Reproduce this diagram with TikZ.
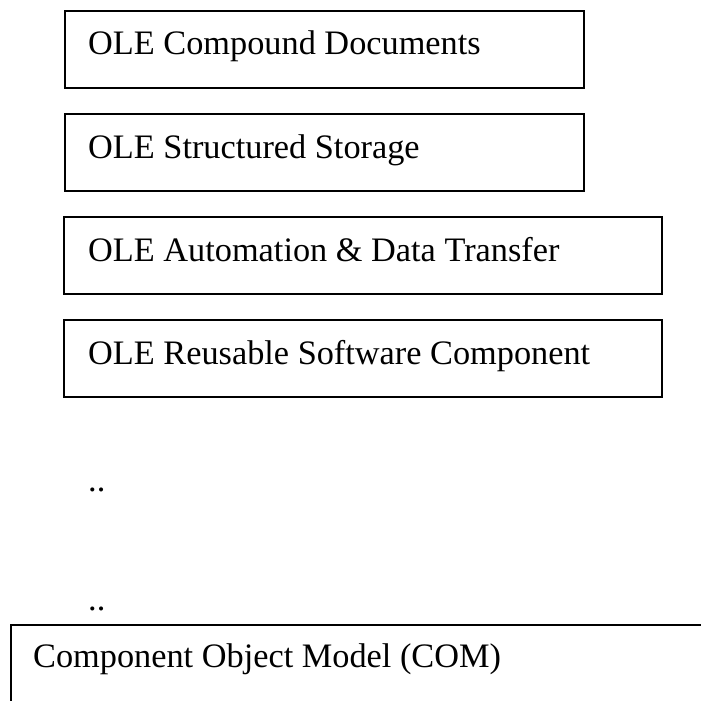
\documentclass[tikz,border=0pt]{standalone}
\usepackage{fontspec}
\setmainfont{Liberation Serif}
\usetikzlibrary{calc}
\begin{document}
\begin{tikzpicture}[x=1pt,y=-1pt,
  layerbox/.style={draw=black, line width=1.8pt, rectangle, inner sep=0pt, anchor=north west, minimum height=77pt},
  lbl/.style={anchor=base west, inner sep=0pt, font=\fontsize{34.3}{40}\selectfont},
  edge/.style={draw=black, line width=1.8pt, line cap=rect}]
\useasboundingbox (0,0) rectangle (701,701);

% stacked OLE layers
\node[layerbox, minimum width=519pt] (b1) at (64,10) {};
\node[layerbox, minimum width=519pt] (b2) at (64,113) {};
\node[layerbox, minimum width=598pt] (b3) at (63,216) {};
\node[layerbox, minimum width=598pt] (b4) at (63,319) {};

\node[lbl] (t1) at ($(b1.north west)+(24,45)$) {OLE Compound Documents};
\node[lbl] (t2) at ($(b2.north west)+(24,45)$) {OLE Structured Storage};
\node[lbl] (t3) at ($(b3.north west)+(25,45)$) {OLE Automation \& Data Transfer};
\node[lbl] (t4) at ($(b4.north west)+(25,45)$) {OLE Reusable Software Component};

% ellipsis between the layers and the base
\node[lbl] (d1) at (88,491) {..};
\node[lbl] (d2) at (88,610) {..};

% base layer, open to the right and bottom
\coordinate (c1) at (11,701);
\coordinate (c2) at (11,625);
\coordinate (c3) at (701,625);
\draw[edge] (c1) -- (c2) -- (c3);
\node[lbl] (t5) at (33,667) {Component Object Model (COM)};
\end{tikzpicture}
\end{document}
